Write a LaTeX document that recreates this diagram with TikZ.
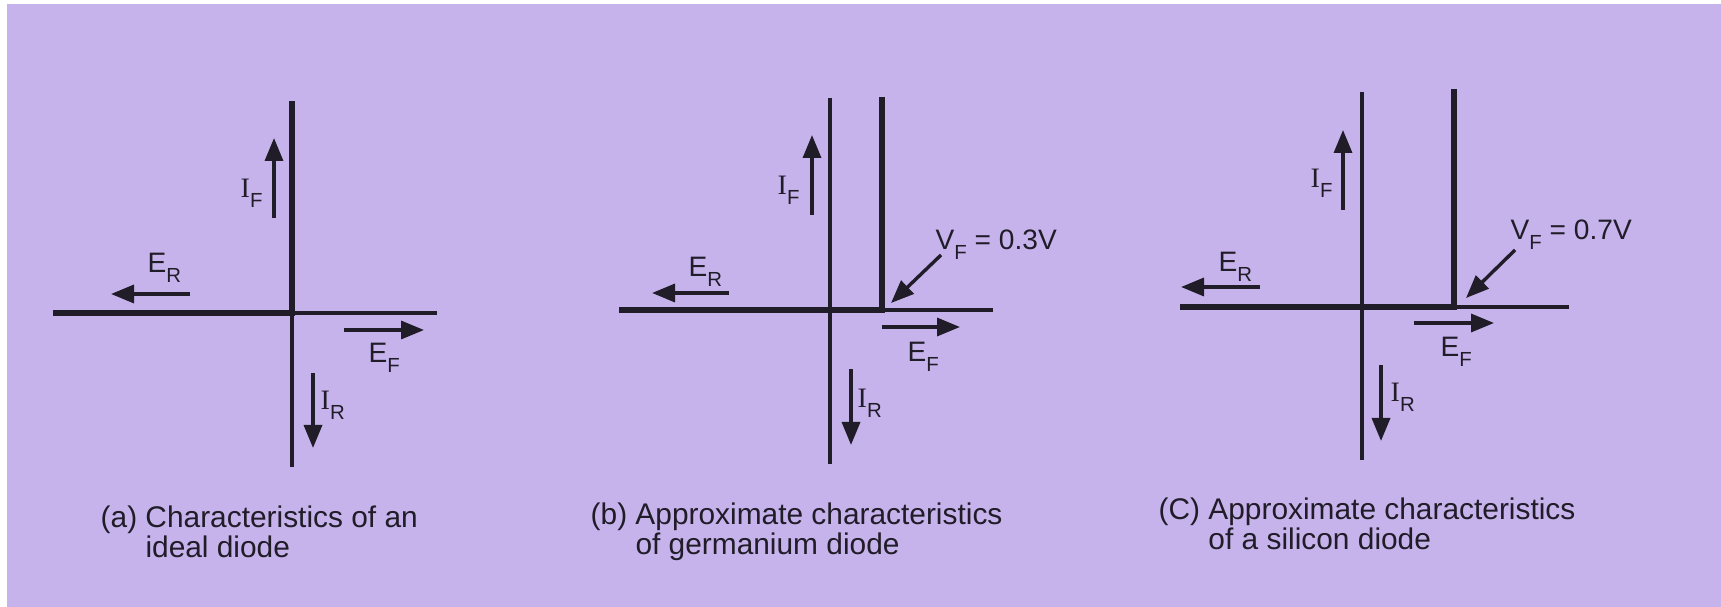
\documentclass[tikz,border=0pt]{standalone}
\usepackage{fontspec}
\setmainfont{Liberation Sans}
\newfontfamily\serifI{Liberation Serif}
\usepackage{tikz}
\usetikzlibrary{arrows.meta,calc}
\definecolor{paperlilac}{HTML}{C6B3EC}
\definecolor{ink}{HTML}{201C28}
\newcommand{\lowsub}[1]{\raisebox{-1mm}{\fontsize{5.8}{5}\selectfont #1}}

\begin{document}
\begin{tikzpicture}[
  curve/.style={line width=0.55mm, draw=ink, line join=miter},
  axis/.style={line width=0.33mm, draw=ink},
  arr/.style={-{Triangle[length=2.3mm, width=1.8mm]}, line width=0.34mm, draw=ink},
  lbl/.style={font=\fontsize{8}{8}\selectfont, text=ink, inner sep=0pt, anchor=base west},
  capt/.style={font=\fontsize{8.5}{7.7}\selectfont, text=ink, inner sep=0pt, anchor=base west}
]
% ---------- paper ----------
\useasboundingbox (0,0) rectangle (17.21,-6.07);
\fill[white] (0,0) rectangle (17.21,-6.07);
\fill[paperlilac] (0.07,-0.04) rectangle (17.21,-6.07);

% ---------- (a) ideal diode ----------
\coordinate (oa) at (2.92,-3.13);
\draw[curve] ($(oa)+(-2.39,0)$) -- (oa) -- ($(oa)+(0,2.12)$);
\draw[axis] (oa) -- ($(oa)+(1.45,0)$);
\draw[axis] (oa) -- ($(oa)+(0,-1.54)$);
\draw[arr] ($(oa)+(-0.18,0.95)$) -- ++(0,0.80);
\draw[arr] ($(oa)+(-1.02,0.19)$) -- ++(-0.79,0);
\draw[arr] ($(oa)+(0.52,-0.17)$) -- ++(0.80,0);
\draw[arr] ($(oa)+(0.21,-0.60)$) -- ++(0,-0.75);
\node[lbl] (ifa) at ($(oa)+(-0.52,1.15)$) {{\serifI I}\lowsub{F}};
\node[lbl] (era) at ($(oa)+(-1.45,0.40)$) {E\lowsub{R}};
\node[lbl] (efa) at ($(oa)+(0.76,-0.50)$) {E\lowsub{F}};
\node[lbl] (ira) at ($(oa)+(0.28,-0.97)$) {{\serifI I}\lowsub{R}};
\node[capt] (capa) at (1.00,-5.28) {\begin{tabular}[t]{@{}l@{ }l@{}}(a)&Characteristics of an\\&ideal diode\end{tabular}};

% ---------- (b) germanium diode ----------
\coordinate (ob) at (8.30,-3.10);
\coordinate (kb) at (8.82,-3.10);
\draw[axis] ($(ob)+(0,2.12)$) -- ($(ob)+(0,-1.54)$);
\draw[curve] ($(ob)+(-2.11,0)$) -- (kb) -- ($(kb)+(0,2.13)$);
\draw[axis] (kb) -- ($(ob)+(1.63,0)$);
\draw[arr] ($(ob)+(-0.18,0.95)$) -- ++(0,0.80);
\draw[arr] ($(ob)+(-1.01,0.17)$) -- ++(-0.77,0);
\draw[arr] ($(ob)+(0.52,-0.17)$) -- ++(0.78,0);
\draw[arr] ($(ob)+(0.21,-0.59)$) -- ++(0,-0.76);
\draw[arr] ($(kb)+(0.59,0.55)$) -- ($(kb)+(0.09,0.07)$);
\node[lbl] (ifb) at ($(ob)+(-0.53,1.15)$) {{\serifI I}\lowsub{F}};
\node[lbl] (erb) at ($(ob)+(-1.42,0.33)$) {E\lowsub{R}};
\node[lbl] (efb) at ($(ob)+(0.77,-0.52)$) {E\lowsub{F}};
\node[lbl] (irb) at ($(ob)+(0.27,-0.98)$) {{\serifI I}\lowsub{R}};
\node[lbl] (vfb) at ($(kb)+(0.53,0.60)$) {V\lowsub{F} = 0.3V};
\node[capt] (capb) at (5.90,-5.25) {\begin{tabular}[t]{@{}l@{ }l@{}}(b)&Approximate characteristics\\&of germanium diode\end{tabular}};

% ---------- (c) silicon diode ----------
\coordinate (oc) at (13.62,-3.07);
\coordinate (kc) at (14.54,-3.07);
\draw[axis] ($(oc)+(0,2.15)$) -- ($(oc)+(0,-1.53)$);
\draw[curve] ($(oc)+(-1.82,0)$) -- (kc) -- ($(kc)+(0,2.18)$);
\draw[axis] (kc) -- ($(oc)+(2.07,0)$);
\draw[arr] ($(oc)+(-0.19,0.97)$) -- ++(0,0.80);
\draw[arr] ($(oc)+(-1.02,0.20)$) -- ++(-0.79,0);
\draw[arr] ($(oc)+(0.52,-0.16)$) -- ++(0.80,0);
\draw[arr] ($(oc)+(0.19,-0.58)$) -- ++(0,-0.76);
\draw[arr] ($(kc)+(0.61,0.57)$) -- ($(kc)+(0.12,0.09)$);
\node[lbl] (ifc) at ($(oc)+(-0.52,1.19)$) {{\serifI I}\lowsub{F}};
\node[lbl] (erc) at ($(oc)+(-1.44,0.35)$) {E\lowsub{R}};
\node[lbl] (efc) at ($(oc)+(0.78,-0.50)$) {E\lowsub{F}};
\node[lbl] (irc) at ($(oc)+(0.28,-0.95)$) {{\serifI I}\lowsub{R}};
\node[lbl] (vfc) at ($(kc)+(0.56,0.67)$) {V\lowsub{F} = 0.7V};
\node[capt] (capc) at (11.58,-5.20) {\begin{tabular}[t]{@{}l@{ }l@{}}(C)&Approximate characteristics\\&of a silicon diode\end{tabular}};
\end{tikzpicture}
\end{document}
